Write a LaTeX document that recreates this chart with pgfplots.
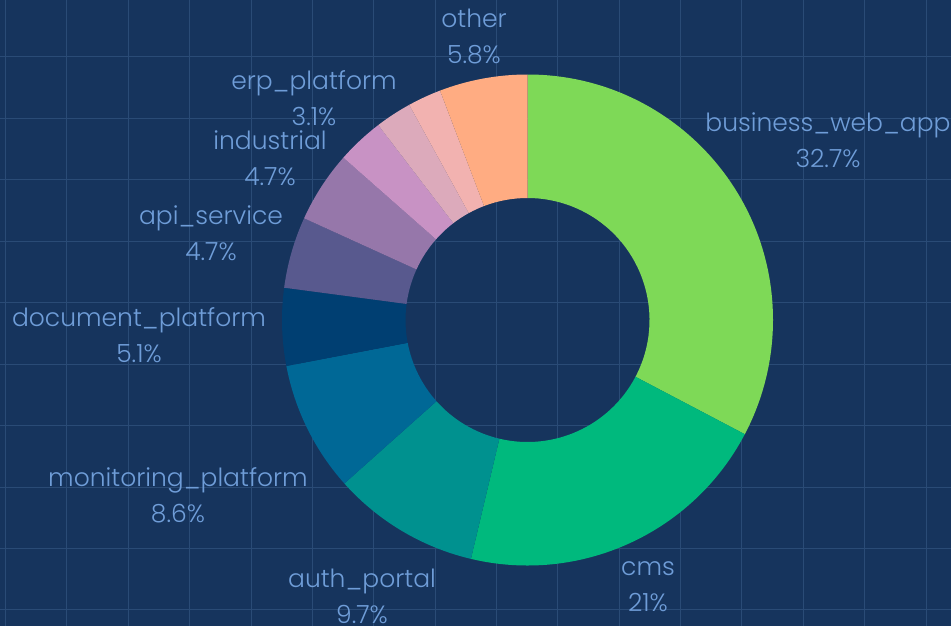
\documentclass[border=0pt]{standalone}
\usepackage{pgfplots}
\pgfplotsset{compat=1.18}
\usepackage{pgfplotstable}
\usepackage{fontspec}
\setmainfont{Poppins}[UprightFont=* Light]

\definecolor{bg}{HTML}{16345D}
\definecolor{gridc}{HTML}{2A4B76}
\definecolor{lbl}{HTML}{6F9DD8}
\definecolor{c1}{HTML}{7ED957}
\definecolor{c2}{HTML}{00B97D}
\definecolor{c3}{HTML}{00918F}
\definecolor{c4}{HTML}{006896}
\definecolor{c5}{HTML}{003F72}
\definecolor{c6}{HTML}{58598E}
\definecolor{c7}{HTML}{9677AA}
\definecolor{c8}{HTML}{C892C4}
\definecolor{c9}{HTML}{DCAABB}
\definecolor{c10}{HTML}{F2B2B0}
\definecolor{c11}{HTML}{FFAC82}

% share of each slice, clockwise from 12 o'clock
\pgfplotstableread{
name value col
business_web_app 32.7 c1
cms 21.0 c2
auth_portal 9.7 c3
monitoring_platform 8.6 c4
document_platform 5.1 c5
api_service 4.7 c6
industrial 4.7 c7
erp_platform 3.1 c8
unlabeled_a 2.4 c9
unlabeled_b 2.2 c10
other 5.8 c11
}\shares

\begin{document}
\begin{tikzpicture}
\begin{axis}[
  name=ax,
  x=1pt, y=1pt, scale only axis,
  xmin=0, xmax=951, ymin=0, ymax=626, y dir=reverse,
  axis line style={draw=none},
  axis background/.style={fill=bg},
  xtick={5.6,66.96,...,950}, ytick={57,118.44,...,626},
  xticklabels={}, yticklabels={}, major tick length=0pt,
  grid=major, grid style={gridc, line width=1pt},
]
\def\acc{0}
\pgfplotsforeachungrouped \i in {0,...,10}{
  \pgfplotstablegetelem{\i}{value}\of\shares \let\v\pgfplotsretval
  \pgfplotstablegetelem{\i}{col}\of\shares \let\c\pgfplotsretval
  \pgfmathsetmacro{\sa}{90-3.6*\acc}
  \pgfmathsetmacro{\ea}{90-3.6*(\acc+\v)}
  \edef\temp{\noexpand\fill[\c]
    ([shift={(\sa:245.5pt)}]axis cs:527.5,320)
    arc[start angle=\sa, end angle=\ea, radius=245.5pt]
    -- ([shift={(\ea:122pt)}]axis cs:527.5,320)
    arc[start angle=\ea, end angle=\sa, radius=122pt] -- cycle;}
  \temp
  \pgfmathsetmacro{\acc}{\acc+\v}
}
\tikzset{lab/.style={align=center, text=lbl, font=\fontsize{25}{36}\selectfont}}
\node[lab] at (axis cs:828,140) {business\_web\_app\\32.7\%};
\node[lab] at (axis cs:648,587) {cms\\21\%};
\node[lab] at (axis cs:362,596) {auth\_portal\\9.7\%};
\node[lab] at (axis cs:178,495) {monitoring\_platform\\8.6\%};
\node[lab] at (axis cs:139,335) {document\_platform\\5.1\%};
\node[lab] at (axis cs:211,233) {api\_service\\4.7\%};
\node[lab] at (axis cs:270,158) {industrial\\4.7\%};
\node[lab] at (axis cs:314,98) {erp\_platform\\3.1\%};
\node[lab] at (axis cs:474,37) {other\\5.8\%};
\end{axis}
\pgfresetboundingbox
\path (ax.south west) rectangle (ax.north east);
\end{tikzpicture}
\end{document}
